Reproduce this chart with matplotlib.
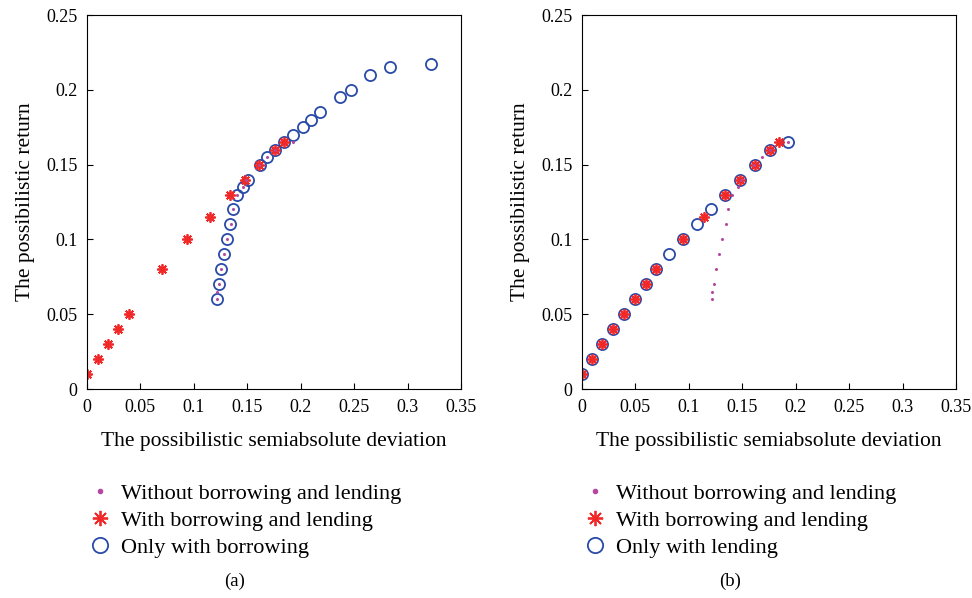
import matplotlib
matplotlib.use("Agg")
import matplotlib.pyplot as plt
from matplotlib.lines import Line2D

plt.rcParams["font.family"] = ["Liberation Serif", "DejaVu Serif"]

# --- 数据 ---
# 无借贷 (两图相同)
none_x = [0.1216, 0.122, 0.1235, 0.1256, 0.128, 0.1312, 0.1343, 0.137, 0.1402,
          0.1458, 0.149, 0.1614, 0.168, 0.176, 0.1926]
none_y = [0.06, 0.065, 0.07, 0.08, 0.09, 0.10, 0.11, 0.12, 0.13,
          0.135, 0.14, 0.15, 0.155, 0.16, 0.165]

# (a) 有借贷
a_both_x = [0.0, 0.0106, 0.0193, 0.029, 0.039, 0.0698, 0.0938, 0.1147, 0.1337,
            0.1477, 0.161, 0.1758, 0.184]
a_both_y = [0.01, 0.02, 0.03, 0.04, 0.05, 0.08, 0.10, 0.115, 0.13,
            0.14, 0.15, 0.16, 0.165]
# (a) 只借
a_borrow_x = [0.1216, 0.1234, 0.1256, 0.128, 0.1309, 0.134, 0.137, 0.140, 0.1459,
              0.1506, 0.1615, 0.168, 0.1758, 0.184, 0.1926, 0.2017, 0.210, 0.2185,
              0.237, 0.2466, 0.2653, 0.2834, 0.3217]
a_borrow_y = [0.06, 0.07, 0.08, 0.09, 0.10, 0.11, 0.12, 0.13, 0.135,
              0.14, 0.15, 0.155, 0.16, 0.165, 0.17, 0.175, 0.18, 0.185,
              0.195, 0.20, 0.21, 0.215, 0.2175]

# (b) 有借贷
b_both_x = [0.0, 0.0097, 0.019, 0.0287, 0.039, 0.0496, 0.0596, 0.0696, 0.0946,
            0.1142, 0.134, 0.148, 0.1617, 0.176, 0.184]
b_both_y = [0.01, 0.02, 0.03, 0.04, 0.05, 0.06, 0.07, 0.08, 0.10,
            0.115, 0.13, 0.14, 0.15, 0.16, 0.165]
# (b) 只贷
b_lend_x = [0.0, 0.0097, 0.019, 0.0287, 0.039, 0.0496, 0.0596, 0.0696, 0.081,
            0.0946, 0.1077, 0.121, 0.134, 0.148, 0.1617, 0.176, 0.1929]
b_lend_y = [0.01, 0.02, 0.03, 0.04, 0.05, 0.06, 0.07, 0.08, 0.09,
            0.10, 0.11, 0.12, 0.13, 0.14, 0.15, 0.16, 0.165]

x_ticks = [0, 0.05, 0.1, 0.15, 0.2, 0.25, 0.3, 0.35]
y_ticks = [0, 0.05, 0.1, 0.15, 0.2, 0.25]

BLUE = "#2a4aa8"
RED = "#f02828"
MAG = "#b5479f"
AST = (8, 2, 0)

fig = plt.figure(figsize=(9.72, 5.98), dpi=100)
W, H = 972, 598


def draw_panel(left_px, both_x, both_y, circ_x, circ_y, circ_label, tag):
    ax = fig.add_axes([left_px / W, 1 - 389 / H, 374 / W, 374 / H])
    ax.plot(circ_x, circ_y, linestyle="none", marker="o", ms=8, mfc="none",
            mec=BLUE, mew=1.3)
    ax.plot(both_x, both_y, linestyle="none", marker=AST, ms=7.5, mec=RED,
            mfc=RED, mew=1.3)
    ax.plot(none_x, none_y, linestyle="none", marker="o", ms=2.2, mfc=MAG,
            mec=MAG, mew=0)
    ax.set_xlim(0, 0.35)
    ax.set_ylim(0, 0.25)
    ax.set_xticks(x_ticks)
    ax.set_yticks(y_ticks)
    ax.set_xticklabels([f"{v:g}" for v in x_ticks])
    ax.set_yticklabels([f"{v:g}" for v in y_ticks])
    ax.tick_params(direction="in", top=False, right=False, length=4,
                   labelsize=13, pad=7)
    for s in ax.spines.values():
        s.set_linewidth(0.8)
    ax.set_xlabel("The possibilistic semiabsolute deviation", fontsize=15.5,
                  labelpad=12)
    ax.set_ylabel("The possibilistic return", fontsize=15.5, labelpad=8)

    handles = [
        Line2D([], [], linestyle="none", marker="o", ms=3, mfc=MAG, mec=MAG),
        Line2D([], [], linestyle="none", marker=AST, ms=11, mec=RED, mew=1.3),
        Line2D([], [], linestyle="none", marker="o", ms=11, mfc="none",
               mec=BLUE, mew=1.3),
    ]
    labels = ["Without borrowing and lending", "With borrowing and lending",
              circ_label]
    ax.legend(handles, labels, loc="upper left", frameon=False,
              bbox_to_anchor=(-0.018, -0.228), fontsize=16, handlelength=1.0,
              handletextpad=0.45, labelspacing=0.3, borderaxespad=0)
    ax.text(0.395, -0.515, tag, transform=ax.transAxes, ha="center",
            va="center", fontsize=13.5)
    return ax


draw_panel(87, a_both_x, a_both_y, a_borrow_x, a_borrow_y,
           "Only with borrowing", "(a)")
draw_panel(582, b_both_x, b_both_y, b_lend_x, b_lend_y,
           "Only with lending", "(b)")

fig.savefig("out.png", dpi=100)
